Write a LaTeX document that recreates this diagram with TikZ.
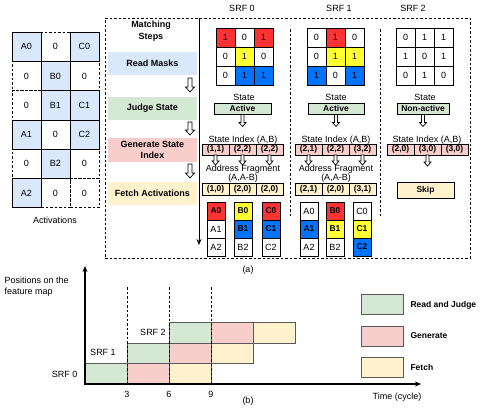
\documentclass[tikz,border=0pt]{standalone}
\usepackage{fontspec}
\setmainfont{Liberation Sans}
\usetikzlibrary{arrows.meta}
\definecolor{lblue}{HTML}{DAE8FC}
\definecolor{lgreen}{HTML}{D5E8D4}
\definecolor{lpink}{HTML}{F8CECC}
\definecolor{lyellow}{HTML}{FFF2CC}
\definecolor{cred}{HTML}{FF3333}
\definecolor{cyel}{HTML}{FFFF33}
\definecolor{cblue}{HTML}{0073FF}
\begin{document}
\begin{tikzpicture}[x=1pt,y=-1pt,
  f9/.style={font=\fontsize{9}{11}\selectfont},
  f9b/.style={font=\fontsize{9}{11.5}\selectfont\bfseries},
  f8b/.style={font=\fontsize{8.5}{10}\selectfont\bfseries},
  box/.style={draw, line width=0.7pt, inner sep=0pt, outer sep=0pt, anchor=north west},
  dsh/.style={dash pattern=on 2.5pt off 2pt},
  band/.style={inner sep=0pt, outer sep=0pt, anchor=north west, f9b, align=center},
  cbox/.style={draw=black!65, line width=0.6pt, inner sep=0pt, outer sep=0pt, anchor=north west, minimum width=42pt, minimum height=20.5pt},
  pics/bigdown/.style={code={\draw[fill=white, line width=0.7pt] (-2,0) -- (2,0) -- (2,#1-5) -- (4.5,#1-5) -- (0,#1) -- (-4.5,#1-5) -- (-2,#1-5) -- cycle;}},
  pics/smalldown/.style={code={\draw[fill=white, line width=0.7pt] (-1.5,0) -- (1.5,0) -- (1.5,#1-4) -- (3.5,#1-4) -- (0,#1) -- (-3.5,#1-4) -- (-1.5,#1-4) -- cycle;}}
]
\useasboundingbox (0,0) rectangle (485,408);

% ---------------- Activations ----------------
\foreach \r/\c in {0/1,1/0,1/2,2/0,3/1,4/0,4/2,5/1,5/2}
  \node[box, dsh, minimum width=29pt, minimum height=29.3pt, f9] (act-\r-\c) at ({12+29*\c},{32+29.3*\r}) {0};
\foreach \r/\c/\t in {0/0/A0,0/2/C0,1/1/B0,2/1/B1,2/2/C1,3/0/A1,3/2/C2,4/1/B2,5/0/A2}
  \node[box, fill=lblue, minimum width=29pt, minimum height=29.3pt, f9] (act-\r-\c) at ({12+29*\c},{32+29.3*\r}) {\t};
\node[f9] (actlabel) at (55,220) {Activations};

% ---------------- frame ----------------
\node[draw, dsh, line width=0.7pt, minimum width=365pt, minimum height=240pt, anchor=north west, inner sep=0pt] (frame) at (105,18) {};

% ---------------- matching steps ----------------
\node[f9b, align=center] (ms) at (151,31) {Matching\\Steps};
\node[band, fill=lblue, minimum width=89pt, minimum height=23pt] (rm) at (108,52) {Read Masks};
\node[band, fill=lgreen, minimum width=89pt, minimum height=23pt] (js) at (108,97) {Judge State};
\node[band, fill=lpink, minimum width=89pt, minimum height=24pt] (gs) at (108,138) {Generate State\\Index};
\node[band, fill=lyellow, minimum width=89pt, minimum height=23pt] (fa) at (108,182) {Fetch Activations};
\pic at (190,78) {bigdown=14};
\pic at (190,122) {bigdown=13};
\pic at (190,164) {bigdown=14};
\coordinate (vtop) at (199,18);
\coordinate (vbot) at (199,245);
\draw[line width=0.9pt, -{Stealth[length=6pt,width=5pt]}] (vtop) -- (vbot);

% separators
\coordinate (sepa1) at (290,29); \coordinate (sepa2) at (290,217);
\coordinate (sepb1) at (380,29); \coordinate (sepb2) at (380,217);
\draw[dsh, line width=0.7pt] (sepa1) -- (sepa2);
\draw[dsh, line width=0.7pt] (sepb1) -- (sepb2);

% ---------------- SRF 0 ----------------
\node[f9] (srf0) at (242,8) {SRF 0};
\foreach \r/\c/\v/\col in {0/0/1/cred,0/1/0/white,0/2/1/cred,1/0/0/white,1/1/1/cyel,1/2/0/white,2/0/0/white,2/1/1/cblue,2/2/1/cblue}
  \node[box, fill=\col, minimum size=19pt, f9] (s0-\r-\c) at ({216+19*\c},{28+19*\r}) {\v};
\node[f9] (st0) at (244,97) {State};
\node[box, fill=lgreen, minimum width=57pt, minimum height=11.5pt, f8b] (sb0) at (214,103) {Active};
\pic at (sb0.south) {smalldown=12};
\node[f9] (si0) at (243,140) {State Index (A,B)};
\foreach \i/\t in {0/{(1,1)},1/{(2,2)},2/{(2,2)}}
  \node[box, fill=lpink, minimum width=27pt, minimum height=11pt, f8b] (i0-\i) at ({202+27*\i},144) {\t};
\foreach \i in {0,1,2} \pic at (i0-\i.south) {smalldown=10};
\node[f9, align=center] (af0) at (243,174) {Address Fragment\\[-2pt](A,A-B)};
\foreach \i/\t in {0/{(1,0)},1/{(2,0)},2/{(2,0)}}
  \node[box, fill=lyellow, minimum width=27pt, minimum height=12pt, f8b] (g0-\i) at ({202+27*\i},183) {\t};
\foreach \c/\x in {0/207,1/234,2/262}{
  \foreach \r in {0,1,2}{ \coordinate (p0-\c-\r) at (\x,{202+18*\r}); }}
\node[box, fill=cred, minimum size=18pt, f8b] (a0-0-0) at (p0-0-0) {A0};
\node[box, fill=white, minimum size=18pt, f9] (a0-0-1) at (p0-0-1) {A1};
\node[box, fill=white, minimum size=18pt, f9] (a0-0-2) at (p0-0-2) {A2};
\node[box, fill=cyel, minimum size=18pt, f8b] (a0-1-0) at (p0-1-0) {B0};
\node[box, fill=cblue, minimum size=18pt, f8b] (a0-1-1) at (p0-1-1) {B1};
\node[box, fill=white, minimum size=18pt, f9] (a0-1-2) at (p0-1-2) {B2};
\node[box, fill=cred, minimum size=18pt, f8b] (a0-2-0) at (p0-2-0) {C0};
\node[box, fill=cblue, minimum size=18pt, f8b] (a0-2-1) at (p0-2-1) {C1};
\node[box, fill=white, minimum size=18pt, f9] (a0-2-2) at (p0-2-2) {C2};

% ---------------- SRF 1 ----------------
\node[f9] (srf1) at (339,8) {SRF 1};
\foreach \r/\c/\v/\col in {0/0/0/white,0/1/1/cred,0/2/0/white,1/0/0/white,1/1/1/cyel,1/2/1/cyel,2/0/1/cblue,2/1/0/white,2/2/1/cblue}
  \node[box, fill=\col, minimum size=19pt, f9] (s1-\r-\c) at ({307+19*\c},{28+19*\r}) {\v};
\node[f9] (st1) at (336,97) {State};
\node[box, fill=lgreen, minimum width=56pt, minimum height=11.5pt, f8b] (sb1) at (308,103) {Active};
\pic at (sb1.south) {smalldown=12};
\node[f9] (si1) at (336,140) {State Index (A,B)};
\foreach \i/\t in {0/{(2,1)},1/{(2,2)},2/{(3,2)}}
  \node[box, fill=lpink, minimum width=27pt, minimum height=11pt, f8b] (i1-\i) at ({295+27*\i},144) {\t};
\foreach \i in {0,1,2} \pic at (i1-\i.south) {smalldown=10};
\node[f9, align=center] (af1) at (336,174) {Address Fragment\\[-2pt](A,A-B)};
\foreach \i/\t in {0/{(2,1)},1/{(2,0)},2/{(3,1)}}
  \node[box, fill=lyellow, minimum width=27pt, minimum height=12pt, f8b] (g1-\i) at ({295+27*\i},183) {\t};
\foreach \c/\x in {0/300,1/326,2/353}{
  \foreach \r in {0,1,2}{ \coordinate (p1-\c-\r) at (\x,{202+18*\r}); }}
\node[box, fill=white, minimum size=18pt, f9] (a1-0-0) at (p1-0-0) {A0};
\node[box, fill=cblue, minimum size=18pt, f8b] (a1-0-1) at (p1-0-1) {A1};
\node[box, fill=white, minimum size=18pt, f9] (a1-0-2) at (p1-0-2) {A2};
\node[box, fill=cred, minimum size=18pt, f8b] (a1-1-0) at (p1-1-0) {B0};
\node[box, fill=cyel, minimum size=18pt, f8b] (a1-1-1) at (p1-1-1) {B1};
\node[box, fill=white, minimum size=18pt, f9] (a1-1-2) at (p1-1-2) {B2};
\node[box, fill=white, minimum size=18pt, f9] (a1-2-0) at (p1-2-0) {C0};
\node[box, fill=cyel, minimum size=18pt, f8b] (a1-2-1) at (p1-2-1) {C1};
\node[box, fill=cblue, minimum size=18pt, f8b] (a1-2-2) at (p1-2-2) {C2};

% ---------------- SRF 2 ----------------
\node[f9] (srf2) at (413,8) {SRF 2};
\foreach \r/\c/\v in {0/0/0,0/1/1,0/2/1,1/0/1,1/1/0,1/2/1,2/0/0,2/1/1,2/2/0}
  \node[box, fill=white, minimum size=19pt, f9] (s2-\r-\c) at ({396+19*\c},{28+19*\r}) {\v};
\node[f9] (st2) at (425,97) {State};
\node[box, fill=lgreen, minimum width=52pt, minimum height=11.5pt, f8b] (sb2) at (397,103) {Non-active};
\pic at (sb2.south) {smalldown=12};
\node[f9] (si2) at (427,140) {State Index (A,B)};
\foreach \i/\t in {0/{(2,0)},1/{(3,0)},2/{(3,0)}}
  \node[box, fill=lpink, minimum width=27pt, minimum height=11pt, f8b] (i2-\i) at ({387+27*\i},144) {\t};
\pic at (i2-1.south) {smalldown=11};
\node[box, fill=lyellow, minimum width=57pt, minimum height=16pt, f8b] (skip) at (397,182) {Skip};

\node[f9] (capa) at (248,270) {(a)};

% ---------------- timing chart ----------------
\node[cbox, fill=lgreen] (r0a) at (85,363.5) {};
\node[cbox, fill=lpink] (r0b) at (127,363.5) {};
\node[cbox, fill=lyellow] (r0c) at (169,363.5) {};
\node[cbox, fill=lgreen] (r1a) at (127,343) {};
\node[cbox, fill=lpink] (r1b) at (169,343) {};
\node[cbox, fill=lyellow] (r1c) at (211,343) {};
\node[cbox, fill=lgreen] (r2a) at (169,322.5) {};
\node[cbox, fill=lpink] (r2b) at (211,322.5) {};
\node[cbox, fill=lyellow] (r2c) at (253,322.5) {};
\foreach \x/\n in {127/3,169/6,211/9}{
  \coordinate (dt\n) at (\x,287);
  \coordinate (db\n) at (\x,384);
  \draw[dsh, line width=0.8pt] (dt\n) -- (db\n);
  \node[f9] (tick\n) at (\x,394) {\n};
}
\coordinate (origin) at (85,385);
\coordinate (ytop) at (85,266);
\coordinate (xend) at (421,384);
\draw[line width=1.2pt, -{Stealth[length=6pt,width=5pt]}] (origin) -- (ytop);
\draw[line width=1.2pt, -{Stealth[length=6pt,width=5pt]}] (84.4,384) -- (xend);
\node[f9, align=left, anchor=north west] (ylab) at (1,273) {Positions on the\\feature map};
\node[f9, anchor=east] (l0) at (81,374) {SRF 0};
\node[f9] (l1) at (103,352) {SRF 1};
\node[f9] (l2) at (153,332) {SRF 2};
\node[f9] (xlab) at (397,397) {Time (cycle)};
\node[f9] (capb) at (248,401) {(b)};

% legend
\node[cbox, fill=lgreen] (lg1) at (361,294) {};
\node[cbox, fill=lpink] (lg2) at (361,326) {};
\node[cbox, fill=lyellow] (lg3) at (361,357) {};
\node[f8b, anchor=west] (lt1) at (407,305) {Read and Judge};
\node[f8b, anchor=west] (lt2) at (407,336) {Generate};
\node[f8b, anchor=west] (lt3) at (407,367) {Fetch};
\end{tikzpicture}
\end{document}
